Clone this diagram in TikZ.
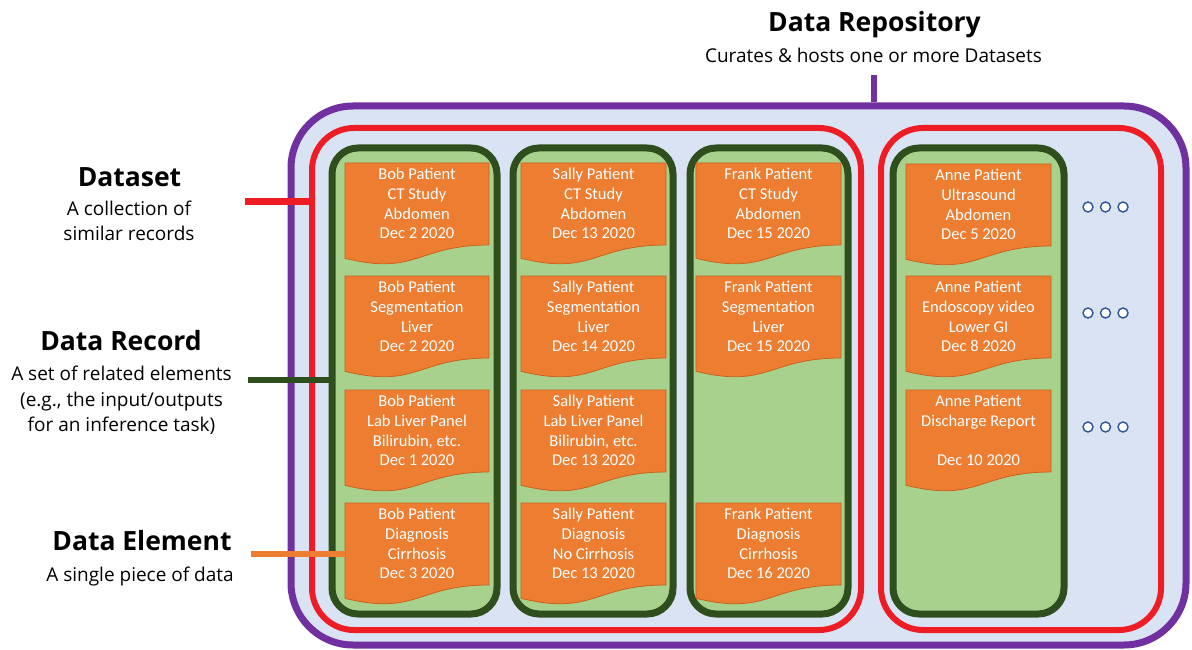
\documentclass[tikz,border=0pt]{standalone}
\usepackage{fontspec}
\setmainfont{Open Sans}
\newfontfamily\docfont{Carlito}

\definecolor{repopurple}{HTML}{7030A0}
\definecolor{repofill}{HTML}{DAE3F3}
\definecolor{setred}{HTML}{EE1D25}
\definecolor{recgreen}{HTML}{2E4E1E}
\definecolor{recfill}{HTML}{A9D18E}
\definecolor{elemorange}{HTML}{ED7D31}
\definecolor{elemedge}{HTML}{C8621C}
\definecolor{dotblue}{HTML}{2F5597}

% one data element: document shape with a wavy lower edge
% #1 name, #2 left x, #3 right x, #4 top y, #5 lines of text
\newcommand\elemdoc[5]{%
  \draw[docbody] (#2,#4) -- (#3,#4) -- (#3,#4+82)
    .. controls ({(#2+#3)/2},#4+82) and ({(#2+#3)/2},#4+113) .. (#2,#4+95.3) -- cycle;
  \coordinate (#1-w) at (#2,#4+50.5);
  \node[doctext] (#1) at ({(#2+#3)/2},#4+40.6) {#5};
}

\begin{document}
\begin{tikzpicture}[x=1pt,y=-1pt,
  repo/.style={draw=repopurple, line width=7pt, fill=repofill, rounded corners=62pt, inner sep=0pt},
  dataset/.style={draw=setred, line width=6pt, rounded corners=42pt, inner sep=0pt},
  record/.style={draw=recgreen, line width=7pt, fill=recfill, rounded corners=26pt, inner sep=0pt},
  docbody/.style={fill=elemorange, draw=elemedge, line width=0.8pt},
  doctext/.style={font=\docfont\fontsize{16.5}{19.55}\selectfont, text=white, align=center, inner sep=0pt},
  headline/.style={font=\bfseries\fontsize{26.5}{32}\selectfont, anchor=base, inner sep=0pt},
  caption/.style={font=\fontsize{19}{25.6}\selectfont, align=center, inner sep=0pt},
  link/.style={line width=6.5pt},
  more/.style={circle, draw=dotblue, fill=white, line width=1.4pt, minimum size=10pt, inner sep=0pt}
]
\useasboundingbox (0,0) rectangle (1192,650);

% repository, datasets and records
\node[repo, minimum width=895pt, minimum height=539pt] (repo) at (738.5,375.5) {};
\node[dataset, minimum width=549pt, minimum height=502pt] (ds1) at (586.5,379) {};
\node[dataset, minimum width=280pt, minimum height=502pt] (ds2) at (1021,379) {};
\node[record, minimum width=165pt, minimum height=466pt] (bob) at (414.5,381) {};
\node[record, minimum width=160pt, minimum height=466pt] (sally) at (593,381) {};
\node[record, minimum width=158pt, minimum height=466pt] (frank) at (769,381) {};
\node[record, minimum width=171pt, minimum height=466pt] (anne) at (978.5,381) {};

% Bob
\elemdoc{bob1}{345}{489}{163}{Bob Patient\\CT Study\\Abdomen\\Dec 2 2020}
\elemdoc{bob2}{345}{489}{276}{Bob Patient\\Segmentation\\Liver\\Dec 2 2020}
\elemdoc{bob3}{345}{489}{390}{Bob Patient\\Lab Liver Panel\\Bilirubin, etc.\\Dec 1 2020}
\elemdoc{bob4}{345}{489}{503}{Bob Patient\\Diagnosis\\Cirrhosis\\Dec 3 2020}
% Sally
\elemdoc{sally1}{521}{666}{163}{Sally Patient\\CT Study\\Abdomen\\Dec 13 2020}
\elemdoc{sally2}{521}{666}{276}{Sally Patient\\Segmentation\\Liver\\Dec 14 2020}
\elemdoc{sally3}{521}{666}{390}{Sally Patient\\Lab Liver Panel\\Bilirubin, etc.\\Dec 13 2020}
\elemdoc{sally4}{521}{666}{503}{Sally Patient\\Diagnosis\\No Cirrhosis\\Dec 13 2020}
% Frank
\elemdoc{frank1}{696}{841}{163}{Frank Patient\\CT Study\\Abdomen\\Dec 15 2020}
\elemdoc{frank2}{696}{841}{276}{Frank Patient\\Segmentation\\Liver\\Dec 15 2020}
\elemdoc{frank4}{696}{841}{503}{Frank Patient\\Diagnosis\\Cirrhosis\\Dec 16 2020}
% Anne
\elemdoc{anne1}{906}{1051}{164}{Anne Patient\\Ultrasound\\Abdomen\\Dec 5 2020}
\elemdoc{anne2}{906}{1051}{276}{Anne Patient\\Endoscopy video\\Lower GI\\Dec 8 2020}
\elemdoc{anne3}{906}{1051}{390}{Anne Patient\\Discharge Report\\\mbox{}\\Dec 10 2020}

% further records
\foreach \y/\r in {207/a,313/b,427/c}{
  \node[more] (more\r1) at (1088,\y) {};
  \node[more] (more\r2) at (1105.5,\y) {};
  \node[more] (more\r3) at (1123,\y) {};
}

% label leaders
\coordinate (repoend) at (874,75);
\coordinate (dsend) at (245,201.5);
\coordinate (recend) at (248,380);
\coordinate (elemend) at (251,553.5);
\draw[link, repopurple] (repoend) -- (repoend |- repo.north);
\draw[link, setred] (dsend) -- (dsend -| ds1.west);
\draw[link, recgreen] (recend) -- (recend -| bob.west);
\draw[link, elemorange, line width=6pt] (elemend) -- (bob4-w);

% labels
\node[headline] (repotitle) at (874.5,32) {Data Repository};
\node[caption, anchor=base] (repotext) at (873.5,62.5) {Curates \& hosts one or more Datasets};

\node[headline] (dstitle) at (129.5,186) {Dataset};
\node[caption] (dstext) at (129,221) {A collection of\\similar records};

\node[headline] (rectitle) at (121,350) {Data Record};
\node[caption] (rectext) at (121.5,400.5) {A set of related elements\\(e.g., the input/outputs\\for an inference task)};

\node[headline] (elemtitle) at (142,550) {Data Element};
\node[caption, anchor=base] (elemtext) at (140,581.7) {A single piece of data};
\end{tikzpicture}
\end{document}
